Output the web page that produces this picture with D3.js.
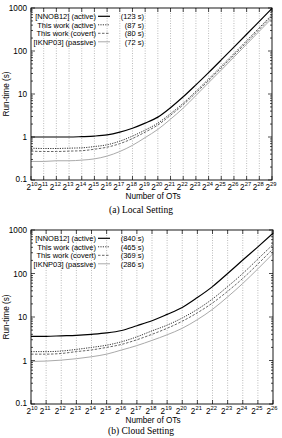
<!DOCTYPE html>
<html>
<head>
<meta charset="utf-8">
<script src="https://cdn.jsdelivr.net/npm/d3@7"></script>
<style>
  body { margin: 0; background: #fff; }
  svg { display: block; }
  text { font-family: "Liberation Sans", Arial, sans-serif; }
</style>
</head>
<body>
<div id="chart"></div>
<script>
///////////// Data /////////////////

const seriesNames = ["[NNOB12] (active)", "This work (active)", "This work (covert)", "[IKNP03] (passive)"];
const yTicks = [0.1, 1, 10, 100, 1000];

// local setting, exponents 10..29
const localExp = d3.range(10, 30);
const localNNOB = [1.0, 1.0, 1.0, 1.0, 1.02, 1.05, 1.12, 1.3, 1.6, 2.1, 2.9, 4.8, 8.6, 16.3, 31.5, 62, 123, 245, 490, 980];
const localActive = [0.55, 0.54, 0.54, 0.55, 0.56, 0.6, 0.66, 0.8, 1.05, 1.45, 2.1, 3.5, 6.1, 11.5, 22.3, 44, 87, 174, 348, 696];
const localCovert = [0.47, 0.46, 0.46, 0.47, 0.48, 0.52, 0.58, 0.7, 0.92, 1.3, 1.9, 3.2, 5.6, 10.6, 20.5, 40.5, 80, 160, 320, 640];
const localIKNP = [0.27, 0.27, 0.28, 0.28, 0.29, 0.31, 0.36, 0.46, 0.64, 0.97, 1.5, 2.6, 4.7, 9.2, 18.3, 36, 72, 144, 288, 576];
const localTotals = ["(123 s)", "(87 s)", "(80 s)", "(72 s)"];

// cloud setting, exponents 10..26
const cloudExp = d3.range(10, 27);
const cloudNNOB = [3.6, 3.6, 3.7, 3.8, 4.0, 4.3, 4.9, 6.3, 8.2, 11.5, 16.6, 28, 50, 100, 204, 410, 840];
const cloudActive = [1.6, 1.6, 1.65, 1.8, 2.0, 2.25, 2.7, 3.5, 4.8, 6.5, 9.5, 15, 26, 50, 100, 215, 465];
const cloudCovert = [1.4, 1.4, 1.45, 1.6, 1.75, 2.0, 2.35, 3.0, 4.0, 5.5, 8.0, 12.5, 21, 39, 77, 165, 369];
const cloudIKNP = [0.95, 0.97, 1.02, 1.1, 1.22, 1.4, 1.75, 2.2, 2.9, 3.9, 5.5, 8.7, 15, 29, 59, 128, 286];
const cloudTotals = ["(840 s)", "(465 s)", "(369 s)", "(286 s)"];

// line styles per series
const lineStyles = [
  { stroke: "#000", width: 1.2, dash: null },
  { stroke: "#333", width: 1, dash: "1.2,1.2" },
  { stroke: "#666", width: 1, dash: "2.5,1.5" },
  { stroke: "#aaa", width: 1, dash: null }
];

const width = 282, height = 438;

const svg = d3.select("#chart")
  .append("svg")
  .attr("width", width)
  .attr("height", height);

function drawChart(cfg) {
  const g = svg.append("g");
  const x = d3.scaleLog().base(2)
    .domain([2 ** cfg.exps[0], 2 ** cfg.exps[cfg.exps.length - 1]])
    .range([cfg.left, cfg.right]);
  const y = d3.scaleLog().domain([0.1, 1000]).range([cfg.bottom, cfg.top]);

  // vertical dotted grid
  g.selectAll(".grid")
    .data(cfg.exps.slice(1, -1))
    .enter()
    .append("line")
    .attr("x1", (k) => x(2 ** k)).attr("x2", (k) => x(2 ** k))
    .attr("y1", cfg.top).attr("y2", cfg.bottom)
    .attr("stroke", "#aaa")
    .attr("stroke-width", 0.8)
    .attr("stroke-dasharray", "1,1.5");

  // ticks on all four sides (gnuplot style)
  const minor = [];
  for (let d = 0.1; d < 1000; d *= 10) {
    for (let m = 2; m < 10; m++) minor.push(d * m);
  }
  const tickData = yTicks.map((v) => ({ v: v, len: 4 })).concat(minor.map((v) => ({ v: v, len: 2 })));
  g.selectAll(".ytl").data(tickData).enter().append("line")
    .attr("x1", cfg.left).attr("x2", (d) => cfg.left + d.len)
    .attr("y1", (d) => y(d.v)).attr("y2", (d) => y(d.v))
    .attr("stroke", "#000").attr("stroke-width", 0.7);
  g.selectAll(".ytr").data(tickData).enter().append("line")
    .attr("x1", cfg.right).attr("x2", (d) => cfg.right - d.len)
    .attr("y1", (d) => y(d.v)).attr("y2", (d) => y(d.v))
    .attr("stroke", "#000").attr("stroke-width", 0.7);
  g.selectAll(".xtb").data(cfg.exps).enter().append("line")
    .attr("x1", (k) => x(2 ** k)).attr("x2", (k) => x(2 ** k))
    .attr("y1", cfg.bottom).attr("y2", cfg.bottom - 4)
    .attr("stroke", "#000").attr("stroke-width", 0.7);
  g.selectAll(".xtt").data(cfg.exps).enter().append("line")
    .attr("x1", (k) => x(2 ** k)).attr("x2", (k) => x(2 ** k))
    .attr("y1", cfg.top).attr("y2", cfg.top + 4)
    .attr("stroke", "#000").attr("stroke-width", 0.7);

  // y tick labels
  g.selectAll(".ylab").data(yTicks).enter().append("text")
    .attr("x", cfg.left - 4)
    .attr("y", (d) => y(d) + (d === 0.1 ? 1.5 : 3))
    .attr("text-anchor", "end")
    .attr("font-size", 8.2)
    .text((d) => d3.format("")(d));

  // x tick labels: 2 with superscript exponent
  const xl = g.selectAll(".xlab").data(cfg.exps).enter().append("text")
    .attr("x", (k) => x(2 ** k) + (k === cfg.exps[0] ? 1 : -1))
    .attr("y", cfg.bottom + 10)
    .attr("text-anchor", "middle")
    .attr("font-size", 8.2);
  xl.append("tspan").text("2");
  xl.append("tspan").attr("font-size", 5.8).attr("dy", -4).text((k) => k);

  // series lines
  const line = d3.line()
    .x((d) => x(2 ** d[0]))
    .y((d) => y(d[1]))
    .curve(d3.curveMonotoneX);
  cfg.series.forEach(function (vals, i) {
    const pts = cfg.exps.map((k, j) => [k, vals[j]]);
    g.append("path")
      .attr("d", line(pts))
      .attr("fill", "none")
      .attr("stroke", lineStyles[i].stroke)
      .attr("stroke-width", lineStyles[i].width)
      .attr("stroke-dasharray", lineStyles[i].dash);
  });

  // frame
  g.append("rect")
    .attr("x", cfg.left).attr("y", cfg.top)
    .attr("width", cfg.right - cfg.left).attr("height", cfg.bottom - cfg.top)
    .attr("fill", "none").attr("stroke", "#000").attr("stroke-width", 0.9);

  // legend
  seriesNames.forEach(function (name, i) {
    const ly = cfg.top + 11 + i * 8.5;
    g.append("text")
      .attr("x", cfg.left + 65).attr("y", ly)
      .attr("text-anchor", "end")
      .attr("font-size", 7.5)
      .text(name);
    g.append("line")
      .attr("x1", cfg.left + 67).attr("x2", cfg.left + 79)
      .attr("y1", ly - 2.7).attr("y2", ly - 2.7)
      .attr("stroke", lineStyles[i].stroke)
      .attr("stroke-width", lineStyles[i].width)
      .attr("stroke-dasharray", lineStyles[i].dash);
    g.append("text")
      .attr("x", cfg.left + 113).attr("y", ly)
      .attr("text-anchor", "end")
      .attr("font-size", 7.5)
      .text(cfg.totals[i]);
  });

  // axis titles
  g.append("text")
    .attr("transform", `translate(9,${(cfg.top + cfg.bottom) / 2}) rotate(-90)`)
    .attr("text-anchor", "middle")
    .attr("font-size", 8.2)
    .text("Run-time (s)");
  g.append("text")
    .attr("x", 153).attr("y", cfg.bottom + 19)
    .attr("text-anchor", "middle")
    .attr("font-size", 8.2)
    .text("Number of OTs");
  g.append("text")
    .attr("x", 141).attr("y", cfg.captionY)
    .attr("text-anchor", "middle")
    .attr("font-size", 9.5)
    .style("font-family", "'Liberation Serif', 'DejaVu Serif', serif")
    .text(cfg.caption);
}

drawChart({
  exps: localExp, series: [localNNOB, localActive, localCovert, localIKNP],
  totals: localTotals, caption: "(a) Local Setting", captionY: 213,
  left: 31, right: 272, top: 8, bottom: 180
});

drawChart({
  exps: cloudExp, series: [cloudNNOB, cloudActive, cloudCovert, cloudIKNP],
  totals: cloudTotals, caption: "(b) Cloud Setting", captionY: 434,
  left: 31, right: 273, top: 230, bottom: 404
});
</script>
</body>
</html>
